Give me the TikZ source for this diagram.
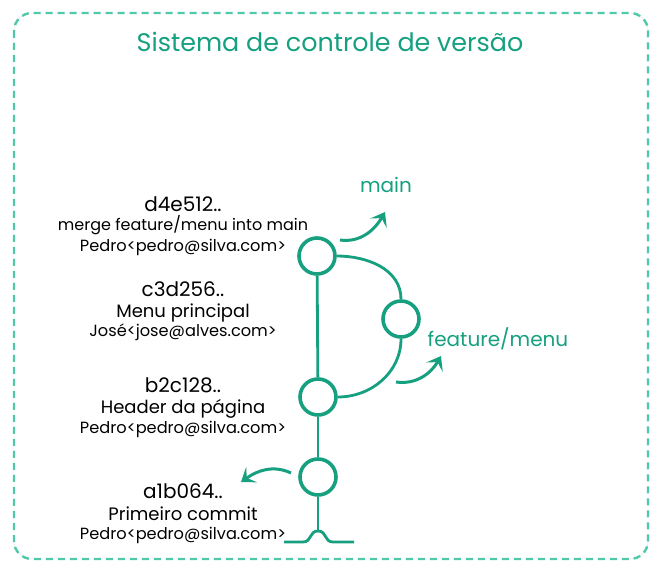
\documentclass[tikz,border=0pt]{standalone}
\usepackage{fontspec}
\setmainfont{Poppins}
\usepackage{tikz}
\usetikzlibrary{arrows.meta}
\usetikzlibrary{positioning}
\definecolor{vgreen}{RGB}{22,160,128}
\definecolor{vdash}{RGB}{80,200,170}
\tikzstyle{frame}    = [draw=vdash, line width=2.4pt, dash pattern=on 7pt off 5pt, rounded corners=18pt]
\tikzstyle{commit}   = [circle, draw=vgreen, line width=3.6pt, minimum size=36pt, inner sep=0pt]
\tikzstyle{branch}   = [draw=vgreen, line width=2.8pt]
\tikzstyle{pointer}  = [draw=vgreen, line width=3pt, -{Stealth[length=13pt, width=19pt, inset=6pt]}]
\tikzstyle{hash}     = [anchor=base, inner sep=0pt, font=\fontsize{20}{24}\selectfont]
\tikzstyle{msg}      = [anchor=base, inner sep=0pt, font=\fontsize{18}{22}\selectfont]
\tikzstyle{author}   = [anchor=base, inner sep=0pt, font=\fontsize{16.2}{19}\selectfont]
\tikzstyle{label}    = [text=vgreen, inner sep=0pt, font=\fontsize{20}{24}\selectfont]

\begin{document}
\begin{tikzpicture}[x=1pt, y=-1pt]
     \useasboundingbox (0,0) rectangle (662,577);
     \draw[draw=gray!25, line width=0.4pt, rounded corners=18pt]
       (14,13) rectangle (648,559);
     \draw[frame]
       (14,13) rectangle (648,559);
     \node[label, font=\fontsize{25.4}{30}\selectfont] (title) at (330,42) {Sistema de controle de versão};
     % commits
     \draw
       node[commit] (d4e512) at (317,256) {}
       node[commit] (c3d256) at (401,319) {}
       node[commit] (b2c128) at (318,397) {}
       node[commit] (a1b064) at (318,477) {};
     \draw[branch] (d4e512) -- (b2c128);
     \draw[branch] (b2c128) -- (a1b064);
     \draw[branch] (d4e512.east) to[out=0, in=90] (c3d256.north);
     \draw[branch] (c3d256.south) to[out=-90, in=0] (b2c128.east);
     % base
     \coordinate (root) at (318,531);
     \coordinate (rootl) at (284,542);
     \coordinate (rootr) at (354,542);
     \draw[branch] (a1b064) -- (root);
     \draw[branch] (rootl) -- (303,542) .. controls (312,542) and (309,531) .. (root)
       .. controls (327,531) and (324,542) .. (333,542) -- (rootr);
     % texts
     \draw
       node[hash]   (hd) at (183,212) {d4e512..}
       node[msg, font=\fontsize{16}{19}\selectfont] (md) at (183,231) {merge feature/menu into main}
       node[author] (ad) at (183,252) {Pedro<pedro@silva.com>}
       node[hash]   (hc) at (183,297) {c3d256..}
       node[msg]    (mc) at (183,318) {Menu principal}
       node[author] (ac) at (183,337) {José<jose@alves.com>}
       node[hash]   (hb) at (183,393) {b2c128..}
       node[msg]    (mb) at (183,414) {Header da página}
       node[author] (ab) at (183,434) {Pedro<pedro@silva.com>}
       node[hash]   (ha) at (183,498) {a1b064..}
       node[msg]    (ma) at (183,520) {Primeiro commit}
       node[author] (aa) at (183,539) {Pedro<pedro@silva.com>};
     % branches
     \node[label] (main) at (386,185) {main};
     \node[label] (feature) at (498,339) {feature/menu};
     \coordinate (mainfrom) at (340,240);
     \coordinate (mainto) at (385,212);
     \coordinate (featfrom) at (396,382);
     \coordinate (featto) at (441,356);
     \coordinate (headfrom) at (291,473);
     \coordinate (headto) at (241,482);
     \draw[pointer] (mainfrom) to[out=-8, in=240] (mainto);
     \draw[pointer] (featfrom) to[out=-8, in=240] (featto);
     \draw[pointer] (headfrom) to[out=155, in=35] (headto);
\end{tikzpicture}
\end{document}
